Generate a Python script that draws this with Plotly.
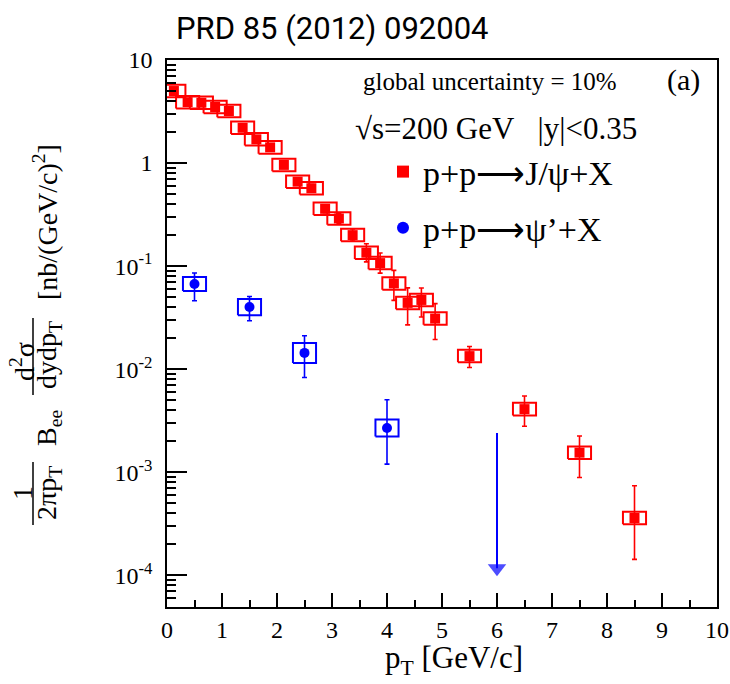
import plotly.graph_objects as go

# ---------------- data ----------------
jpsi_pt = [0.125, 0.375, 0.625, 0.875, 1.125, 1.375, 1.625, 1.875, 2.125, 2.375,
           2.625, 2.875, 3.125, 3.375, 3.625, 3.875, 4.125, 4.375, 4.625, 4.875,
           5.5, 6.5, 7.5, 8.5]
jpsi_y = [5.0, 3.9, 3.85, 3.5, 3.2, 2.2, 1.7, 1.42, 0.96, 0.66,
          0.57, 0.36, 0.29, 0.20, 0.135, 0.107, 0.068, 0.044, 0.047, 0.031,
          0.0134, 0.0041, 0.00155, 0.00036]
jpsi_stat_hi = [5.3, 4.1, 4.05, 3.7, 3.4, 2.35, 1.82, 1.53, 1.03, 0.71,
                0.62, 0.39, 0.324, 0.229, 0.165, 0.134, 0.0909, 0.0615, 0.0614, 0.0433,
                0.0166, 0.0055, 0.00225, 0.00074]
jpsi_stat_lo = [4.7, 3.7, 3.65, 3.3, 3.0, 2.06, 1.59, 1.32, 0.89, 0.61,
                0.53, 0.33, 0.259, 0.175, 0.110, 0.0856, 0.0465, 0.0269, 0.0321, 0.0194,
                0.0104, 0.0028, 0.00089, 0.000143]
jpsi_sys = [0.15, 0.15, 0.15, 0.15, 0.15, 0.15, 0.15, 0.15, 0.15, 0.15,
            0.15, 0.15, 0.15, 0.15, 0.15, 0.15, 0.15, 0.15, 0.15, 0.15,
            0.15, 0.15, 0.15, 0.15]

psi2_pt = [0.5, 1.5, 2.5, 4.0]
psi2_y = [0.067, 0.0401, 0.0144, 0.00269]
psi2_stat_hi = [0.0857, 0.0508, 0.0211, 0.00506]
psi2_stat_lo = [0.0462, 0.0295, 0.00832, 0.00120]
psi2_sys = [0.17, 0.20, 0.25, 0.21]

psi2_ul_pt = [6.0]
psi2_ul = [0.0024]
psi2_ul_arrow_end = [1.17e-4]

y_tickvals = [1e-4, 1e-3, 1e-2, 1e-1, 1, 10]
y_ticktext = ["10<sup>-4</sup>", "10<sup>-3</sup>", "10<sup>-2</sup>", "10<sup>-1</sup>", "1", "10"]
x_tickvals = [0, 1, 2, 3, 4, 5, 6, 7, 8, 9, 10]

RED = "#ff0000"
BLUE = "#0000ff"
SERIF = "Liberation Serif"

# ---------------- helpers ----------------
BOX_HW = 0.21


def box_path(xs, ys, sys):
    bx, by = [], []
    for x, y, s in zip(xs, ys, sys):
        lo, hi = y / (1 + s), y * (1 + s)
        bx += [x - BOX_HW, x + BOX_HW, x + BOX_HW, x - BOX_HW, x - BOX_HW, None]
        by += [lo, lo, hi, hi, lo, None]
    return bx, by


fig = go.Figure()

# systematic boxes
bx, by = box_path(jpsi_pt, jpsi_y, jpsi_sys)
fig.add_trace(go.Scatter(x=bx, y=by, mode="lines", line=dict(color=RED, width=2),
                         showlegend=False, hoverinfo="skip"))
bx, by = box_path(psi2_pt, psi2_y, psi2_sys)
fig.add_trace(go.Scatter(x=bx, y=by, mode="lines", line=dict(color=BLUE, width=2),
                         showlegend=False, hoverinfo="skip"))

# points with stat errors
fig.add_trace(go.Scatter(
    x=jpsi_pt, y=jpsi_y, mode="markers", name="p+p⟶J/ψ+X",
    legendgroup="a",
    marker=dict(symbol="square", size=10, color=RED),
    error_y=dict(type="data", symmetric=False,
                 array=[h - v for h, v in zip(jpsi_stat_hi, jpsi_y)],
                 arrayminus=[v - l for l, v in zip(jpsi_stat_lo, jpsi_y)],
                 color=RED, thickness=1.6, width=2.5)))
fig.add_trace(go.Scatter(
    x=psi2_pt, y=psi2_y, mode="markers", name="p+p⟶ψ’+X",
    legendgroup="b",
    marker=dict(symbol="circle", size=10, color=BLUE),
    error_y=dict(type="data", symmetric=False,
                 array=[h - v for h, v in zip(psi2_stat_hi, psi2_y)],
                 arrayminus=[v - l for l, v in zip(psi2_stat_lo, psi2_y)],
                 color=BLUE, thickness=1.6, width=2.5)))

# upper limit arrow
fig.add_trace(go.Scatter(
    x=psi2_ul_pt * 2, y=psi2_ul + psi2_ul_arrow_end, mode="lines+markers",
    line=dict(color=BLUE, width=2),
    marker=dict(symbol=["line-ew", "triangle-down"], size=[0, 16], color=BLUE,
                line=dict(width=0)),
    showlegend=False, hoverinfo="skip"))

# ---------------- layout ----------------
W, H = 730, 684
L, R, T, B = 167, 13, 60, 77
PW, PH = W - L - R, H - T - B


def px(x):  # window pixel -> paper
    return (x - L) / PW


def py(y):
    return (H - B - y) / PH


minor_y = [m * 10 ** e for e in range(-5, 1) for m in range(2, 10)]

fig.update_layout(
    width=W, height=H,
    margin=dict(l=L, r=R, t=T, b=B, autoexpand=False),
    paper_bgcolor="white", plot_bgcolor="white",
    title=dict(text="PRD 85 (2012) 092004", x=176 / W, xanchor="left",
               y=1 - 28 / H, yanchor="middle", xref="container", yref="container",
               font=dict(family="Roboto", size=31, color="black")),
    showlegend=True,
    legend=dict(x=px(383), y=py(143), xanchor="left", yanchor="top",
                font=dict(family=SERIF, size=34, color="black"),
                bgcolor="rgba(0,0,0,0)", tracegroupgap=9, itemsizing="constant"),
    xaxis=dict(range=[0, 10], tickvals=x_tickvals, ticks="inside", ticklen=14, tickwidth=1.5,
               tickcolor="black", showline=True, linecolor="black", linewidth=1.5, mirror=True,
               showgrid=False, zeroline=False, automargin=False,
               minor=dict(tickvals=[0.5 + i for i in range(10)], ticks="inside", ticklen=7,
                          tickwidth=1.5, tickcolor="black", showgrid=False),
               tickfont=dict(family=SERIF, size=24, color="black")),
    yaxis=dict(type="log", range=[-4.307, 1.0], tickvals=y_tickvals, ticktext=y_ticktext,
               ticks="inside", ticklen=20, tickwidth=1.5, tickcolor="black",
               showline=True, linecolor="black", linewidth=1.5, mirror=True,
               showgrid=False, zeroline=False, ticklabelstandoff=8, automargin=False,
               minor=dict(tickvals=minor_y, ticks="inside", ticklen=9, tickwidth=1.5,
                          tickcolor="black", showgrid=False),
               tickfont=dict(family=SERIF, size=24, color="black")),
)

ann_font = dict(family=SERIF, color="black")


def ann(text, x, y, size, angle=0):
    fig.add_annotation(text=text, x=px(x), y=py(y), xref="paper", yref="paper",
                       showarrow=False, xanchor="center", yanchor="middle",
                       textangle=angle, font=dict(size=size, **ann_font))


ann("global uncertainty = 10%", 490, 82, 25)
ann("(a)", 683, 80, 30)
ann("√s=200 GeV&nbsp;&nbsp;&nbsp;|y|&lt;0.35", 496, 128, 31)

# x-axis title
ann("p<sub>T</sub> [GeV/c]", 454, 660, 31)

# y-axis title pieces (rotated)
ann("[nb/(GeV/c)<sup>2</sup>]", 46, 222, 28, -90)
ann("d<sup>2</sup>σ", 22, 362, 28, -90)
ann("dydp<sub>T</sub>", 48, 355, 28, -90)
ann("B<sub>ee</sub>", 48, 428, 28, -90)
ann("1", 22, 493, 28, -90)
ann("2πp<sub>T</sub>", 48, 493, 28, -90)
for y0, y1 in [(318, 395), (462, 525)]:
    fig.add_shape(type="line", xref="paper", yref="paper",
                  x0=px(33), x1=px(33), y0=py(y0), y1=py(y1),
                  line=dict(color="black", width=1.5))

fig.write_html("out.html", config={"displayModeBar": False},
               post_script="document.body.style.margin='0px';"
                           "document.body.style.overflow='hidden';")
